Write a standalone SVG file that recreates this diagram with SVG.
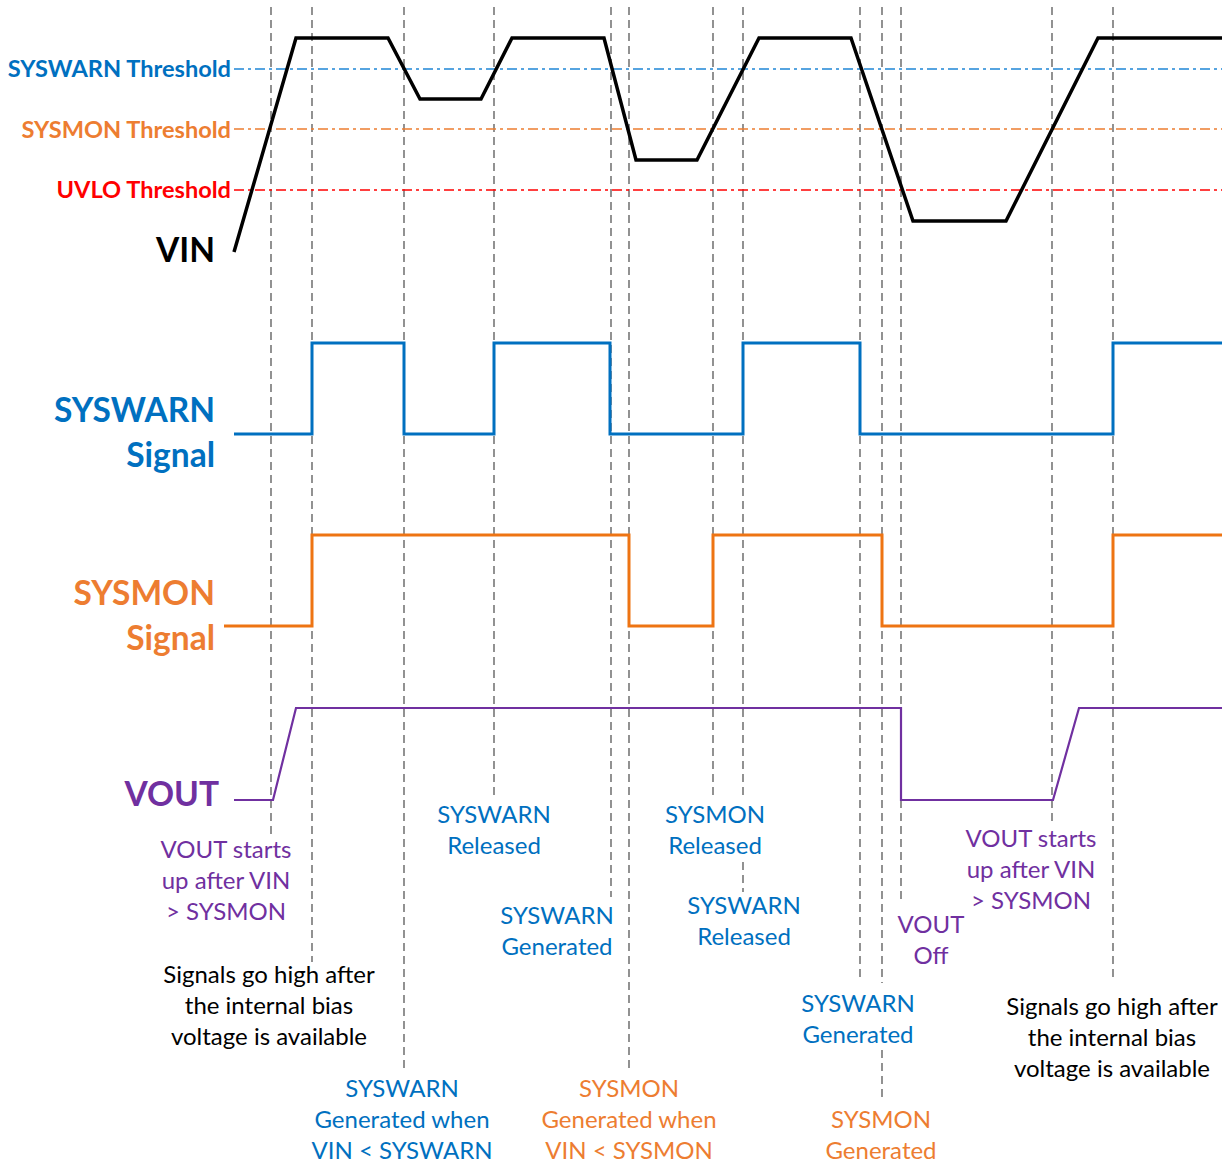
<svg xmlns="http://www.w3.org/2000/svg" width="1231" height="1165" viewBox="0 0 1231 1165">
<style>
.g{stroke:#4a4a4a;stroke-width:1.2;stroke-dasharray:8 5;fill:none}
.th{stroke-width:1.3;stroke-dasharray:10 4 3 4;fill:none}
.w{fill:none;stroke-linejoin:miter}
.t{font-family:Lato,"Liberation Sans",sans-serif;font-size:24px;text-anchor:middle}
.b{font-family:Lato,"Liberation Sans",sans-serif;font-weight:bold;text-anchor:end}
.blue{fill:#0070C0}.orange{fill:#ED7D31}.purple{fill:#7030A0}.black{fill:#000}.red{fill:#FF0000}
</style>
<rect width="1231" height="1165" fill="#fff"/>
<g id="guides">
<line class="g" x1="271" y1="7" x2="271" y2="838"/>
<line class="g" x1="312" y1="7" x2="312" y2="962"/>
<line class="g" x1="404" y1="7" x2="404" y2="1070"/>
<line class="g" x1="494" y1="7" x2="494" y2="799"/>
<line class="g" x1="611" y1="7" x2="611" y2="897"/>
<line class="g" x1="629" y1="7" x2="629" y2="1070"/>
<line class="g" x1="713" y1="7" x2="713" y2="799"/>
<line class="g" x1="743" y1="7" x2="743" y2="799"/>
<line class="g" x1="743" y1="862" x2="743" y2="892"/>
<line class="g" x1="860" y1="7" x2="860" y2="977"/>
<line class="g" x1="882" y1="7" x2="882" y2="983"/>
<line class="g" x1="882" y1="1050" x2="882" y2="1102"/>
<line class="g" x1="901" y1="7" x2="901" y2="900"/>
<line class="g" x1="1052" y1="7" x2="1052" y2="823"/>
<line class="g" x1="1113" y1="7" x2="1113" y2="977"/>
</g>
<g id="thresholds">
<line class="th" x1="234" y1="69" x2="1222" y2="69" stroke="#1F86D6"/>
<line class="th" x1="234" y1="129" x2="1222" y2="129" stroke="#ED7D31"/>
<line class="th" x1="234" y1="190" x2="1222" y2="190" stroke="#FF0000"/>
</g>
<g id="connectors">
<polyline id="vin" class="w" stroke="#000" stroke-width="3.5" points="234,252 296,38 388,38 420,99 481,99 512,38 604,38 636,160 697,160 759,38 851,38 913,221 1006,221 1098,38 1222,38"/>
<polyline id="syswarn" class="w" stroke="#0070C0" stroke-width="3" points="234,434 312,434 312,343 404,343 404,434 494,434 494,343 610,343 610,434 743,434 743,343 860,343 860,434 1113,434 1113,343 1222,343"/>
<polyline id="sysmon" class="w" stroke="#EE7413" stroke-width="3" points="224,626 312,626 312,535 629,535 629,626 713,626 713,535 882,535 882,626 1113,626 1113,535 1222,535"/>
<polyline id="vout" class="w" stroke="#7030A0" stroke-width="2.2" points="234,800 273,800 296,708 901,708 901,800 1053,800 1079,708 1222,708"/>
</g>
<g id="axis-labels">
<text class="b blue" x="231" y="77" font-size="23.6">SYSWARN Threshold</text>
<text class="b orange" x="231" y="138" font-size="23.6">SYSMON Threshold</text>
<text class="b red" x="231" y="198" font-size="23.6">UVLO Threshold</text>
<text class="b black" x="215" y="262" font-size="33.5">VIN</text>
<text class="b blue" x="215" y="422" font-size="33.5">SYSWARN</text>
<text class="b blue" x="215" y="467" font-size="33.5">Signal</text>
<text class="b orange" x="215" y="605" font-size="33.5">SYSMON</text>
<text class="b orange" x="215" y="650" font-size="33.5">Signal</text>
<text class="b purple" x="219" y="806" font-size="33.5">VOUT</text>
</g>
<g id="annotations">
<g id="n1" class="t purple"><text x="226" y="858">VOUT starts</text><text x="226" y="889">up after VIN</text><text x="226" y="920">&gt; SYSMON</text></g>
<g id="n2" class="t black"><text x="269" y="983">Signals go high after</text><text x="269" y="1014">the internal bias</text><text x="269" y="1045">voltage is available</text></g>
<g id="n3" class="t blue"><text x="494" y="823">SYSWARN</text><text x="494" y="854">Released</text></g>
<g id="n4" class="t blue"><text x="557" y="924">SYSWARN</text><text x="557" y="955">Generated</text></g>
<g id="n5" class="t blue"><text x="402" y="1097">SYSWARN</text><text x="402" y="1128">Generated when</text><text x="402" y="1159">VIN &lt; SYSWARN</text></g>
<g id="n6" class="t orange"><text x="629" y="1097">SYSMON</text><text x="629" y="1128">Generated when</text><text x="629" y="1159">VIN &lt; SYSMON</text></g>
<g id="n7" class="t blue"><text x="715" y="823">SYSMON</text><text x="715" y="854">Released</text></g>
<g id="n8" class="t blue"><text x="744" y="914">SYSWARN</text><text x="744" y="945">Released</text></g>
<g id="n9" class="t purple"><text x="1031" y="847">VOUT starts</text><text x="1031" y="878">up after VIN</text><text x="1031" y="909">&gt; SYSMON</text></g>
<g id="n10" class="t purple"><text x="931" y="933">VOUT</text><text x="931" y="964">Off</text></g>
<g id="n11" class="t blue"><text x="858" y="1012">SYSWARN</text><text x="858" y="1043">Generated</text></g>
<g id="n12" class="t black"><text x="1112" y="1015">Signals go high after</text><text x="1112" y="1046">the internal bias</text><text x="1112" y="1077">voltage is available</text></g>
<g id="n13" class="t orange"><text x="881" y="1128">SYSMON</text><text x="881" y="1159">Generated</text></g>
</g>
</svg>
